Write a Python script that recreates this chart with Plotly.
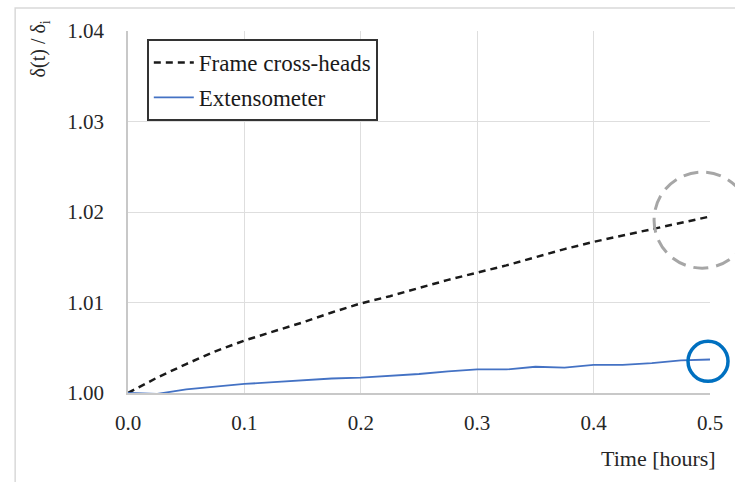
import plotly.graph_objects as go

# Normalised deflection over time, read at regular intervals
time_h = [0.0, 0.025, 0.05, 0.075, 0.1, 0.125, 0.15, 0.175, 0.2, 0.225, 0.25,
          0.275, 0.3, 0.325, 0.35, 0.375, 0.4, 0.425, 0.45, 0.475, 0.5]
frame_crossheads = [1.0000, 1.0017, 1.0032, 1.0046, 1.0058, 1.0068, 1.0078, 1.0089,
                    1.0099, 1.0107, 1.0116, 1.0125, 1.0133, 1.0141, 1.0150, 1.0159,
                    1.0167, 1.0174, 1.0181, 1.0188, 1.0195]
extensometer = [1.0000, 0.9999, 1.0004, 1.0007, 1.0010, 1.0012, 1.0014, 1.0016,
                1.0017, 1.0019, 1.0021, 1.0024, 1.0026, 1.0026, 1.0029, 1.0028,
                1.0031, 1.0031, 1.0033, 1.0036, 1.0037]

x_ticks = [0.0, 0.1, 0.2, 0.3, 0.4, 0.5]
x_tick_text = ["0.0", "0.1", "0.2", "0.3", "0.4", "0.5"]
y_ticks = [1.00, 1.01, 1.02, 1.03, 1.04]
y_tick_text = ["1.00", "1.01", "1.02", "1.03", "1.04"]

FONT = "Liberation Serif"

X_RANGE = [0.0, 0.5]
Y_RANGE = [1.0, 1.04]

fig = go.Figure()
fig.add_trace(go.Scatter(
    x=time_h, y=frame_crossheads, mode="lines", name="Frame cross-heads",
    legendgroup="a",
    line=dict(color="#1a1a1a", width=2.5, dash="7px,5px"),
))
fig.add_trace(go.Scatter(
    x=time_h, y=extensometer, mode="lines", name="Extensometer",
    legendgroup="b",
    line=dict(color="#4472c4", width=1.8),
))

W, H = 735, 482
L, R, T, B = 128, 19, 31, 89
pw, ph = W - L - R, H - T - B

def px(xp):
    return (xp - L) / pw

def py(yp):
    return (H - B - yp) / ph

def xfrac(v):
    return (v - X_RANGE[0]) / (X_RANGE[1] - X_RANGE[0])

def yfrac(v):
    return (v - Y_RANGE[0]) / (Y_RANGE[1] - Y_RANGE[0])

shapes = [
    # outer chart border
    dict(type="rect", xref="paper", yref="paper",
         x0=px(14), x1=px(760), y0=py(500), y1=py(8),
         line=dict(color="#d9d9d9", width=1.5), fillcolor="rgba(0,0,0,0)", layer="below"),
    # highlight rings at the end of each series (paper-anchored so they are not clipped)
    dict(type="circle", xref="paper", yref="paper", xsizemode="pixel", ysizemode="pixel",
         xanchor=xfrac(time_h[-1] - 0.0068), yanchor=yfrac(frame_crossheads[-1] - 0.0004),
         x0=-48, x1=48, y0=-48, y1=48,
         line=dict(color="#a6a6a6", width=3, dash="15px,8px")),
    dict(type="circle", xref="paper", yref="paper", xsizemode="pixel", ysizemode="pixel",
         xanchor=xfrac(time_h[-1] - 0.0017), yanchor=yfrac(extensometer[-1] - 0.0002),
         x0=-20, x1=20, y0=-20, y1=20,
         line=dict(color="#0070c0", width=3.5)),
]

annotations = [
    dict(text="Time [hours]", xref="paper", yref="paper", x=px(724), y=py(458),
         xanchor="right", yanchor="middle", showarrow=False,
         font=dict(family=FONT, size=22, color="#262626")),
    dict(text="δ(t) / δ<sub>i</sub>", xref="paper", yref="paper", x=px(39), y=py(18),
         xanchor="center", yanchor="top", textangle=-90, showarrow=False,
         font=dict(family=FONT, size=20, color="#262626")),
]

fig.update_layout(
    width=W, height=H,
    margin=dict(l=L, r=R, t=T, b=B),
    paper_bgcolor="white", plot_bgcolor="white",
    font=dict(family=FONT, color="#262626"),
    showlegend=True,
    legend=dict(
        x=px(147), y=py(39), xanchor="left", yanchor="top",
        bgcolor="white", bordercolor="#333333", borderwidth=2,
        font=dict(family=FONT, size=23, color="#1a1a1a"),
        traceorder="grouped", tracegroupgap=2, itemwidth=40,
    ),
    xaxis=dict(
        range=X_RANGE, tickvals=x_ticks, ticktext=x_tick_text,
        showgrid=True, gridcolor="#dedede", gridwidth=1,
        showline=True, linecolor="#c8c8c8", linewidth=1.5,
        zeroline=False, ticks="", ticklabelstandoff=10,
        tickfont=dict(family=FONT, size=21, color="#262626"),
    ),
    yaxis=dict(
        range=Y_RANGE, tickvals=y_ticks, ticktext=y_tick_text,
        showgrid=True, gridcolor="#dedede", gridwidth=1,
        showline=True, linecolor="#c8c8c8", linewidth=1.5,
        zeroline=False, ticks="", ticklabelstandoff=18,
        tickfont=dict(family=FONT, size=21, color="#262626"),
    ),
    shapes=shapes,
    annotations=annotations,
)

fig.write_html("out.html")
